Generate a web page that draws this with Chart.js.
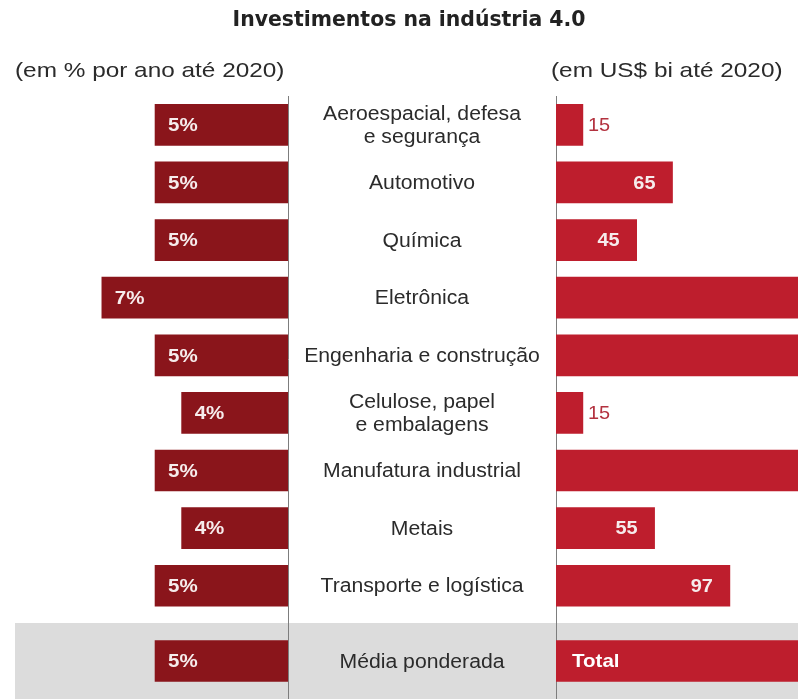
<!DOCTYPE html>
<html lang="pt-BR">
<head>
<meta charset="utf-8">
<title>Investimentos na indústria 4.0</title>
<script src="https://cdn.jsdelivr.net/npm/chart.js@4.4.1/dist/chart.umd.min.js"></script>
<style>
  html, body { margin: 0; padding: 0; background: #ffffff; }
  #wrap { position: relative; width: 798px; height: 699px; overflow: hidden; }
  #mainBox { position: absolute; left: 0; top: 0; width: 798px; height: 623px; }
  #footBox { position: absolute; left: 0; top: 623px; width: 798px; height: 76px; }
</style>
</head>
<body>
<div id="wrap">
  <div id="mainBox"><canvas id="main"></canvas></div>
  <div id="footBox"><canvas id="foot"></canvas></div>
</div>
<script>
// ---- data ----
const chartTitle = 'Investimentos na indústria 4.0';
const leftCaption = '(em % por ano até 2020)';
const rightCaption = '(em US$ bi até 2020)';

const sectors = [
  ['Aeroespacial, defesa', 'e segurança'],
  'Automotivo',
  'Química',
  'Eletrônica',
  'Engenharia e construção',
  ['Celulose, papel', 'e embalagens'],
  'Manufatura industrial',
  'Metais',
  'Transporte e logística'
];
// annual growth of investment, % per year up to 2020
const growthPct = [5, 5, 5, 7, 5, 4, 5, 4, 5];
// investment, US$ billion up to 2020
const investBn = [15, 65, 45, 243, 200, 15, 178, 55, 97];

const summaryLabel = 'Média ponderada';
const summaryPct = [5];
const summaryTotal = [907];
const summaryTotalText = 'Total';

// ---- styles ----
const DARK_RED = '#8a151b';
const RED = '#be1e2d';
const BAND = '#dcdcdc';
const DIVIDER = '#7d7d7d';
const INK = '#2b2b2b';
const SANS = '"Liberation Sans", Arial, sans-serif';

function drawText(ctx, s, x, y, font, color, align, sx) {
  ctx.save();
  ctx.font = font;
  ctx.fillStyle = color;
  ctx.textAlign = align;
  ctx.textBaseline = 'middle';
  ctx.translate(x, y);
  ctx.scale(sx || 1, 1);
  ctx.fillText(s, 0, 0);
  ctx.restore();
}

// three side-by-side x scales: % bars (left, reversed), label column, US$ bars (right)
function columnScales() {
  const hidden = {
    display: true,
    grid: { display: false, drawTicks: false },
    border: { display: false },
    ticks: { display: false }
  };
  return {
    xl: Object.assign({ type: 'linear', position: 'bottom', stack: 'cols', stackWeight: 288,
                        reverse: true, min: 0, max: 10.83 }, hidden),
    xm: Object.assign({ type: 'linear', position: 'bottom', stack: 'cols', stackWeight: 268,
                        min: 0, max: 1 }, hidden),
    xr: Object.assign({ type: 'linear', position: 'bottom', stack: 'cols', stackWeight: 242,
                        min: 0, max: 135 }, hidden),
    y: { type: 'category', display: false, offset: true, grid: { display: false } }
  };
}

function drawDividers(chart, top) {
  const ctx = chart.ctx;
  const { xl, xr } = chart.scales;
  ctx.save();
  ctx.strokeStyle = DIVIDER;
  ctx.lineWidth = 1;
  [xl.getPixelForValue(0), xr.getPixelForValue(0)].forEach(px => {
    const x = Math.round(px) + 0.5;
    ctx.beginPath();
    ctx.moveTo(x, top);
    ctx.lineTo(x, chart.height);
    ctx.stroke();
  });
  ctx.restore();
}

function drawValueLabels(chart, pctValues, bnValues, bnText) {
  const ctx = chart.ctx;
  const { xl, xr, y } = chart.scales;
  pctValues.forEach((v, i) => {
    const yy = y.getPixelForValue(i) + 1;
    drawText(ctx, v + '%', xl.getPixelForValue(v) + 13, yy,
             'bold 19px ' + SANS, '#f6ecec', 'left', 1.08);
  });
  bnValues.forEach((v, i) => {
    const yy = y.getPixelForValue(i) + 1;
    if (bnText) {
      drawText(ctx, bnText, xr.getPixelForValue(0) + 16, yy,
               'bold 19px ' + SANS, '#ffffff', 'left', 1.08);
      return;
    }
    const end = xr.getPixelForValue(v);
    if (end - xr.left < 40) {
      drawText(ctx, String(v), end + 5, yy, '19px ' + SANS, '#b3323f', 'left', 1.05);
    } else if (end <= xr.right) {
      drawText(ctx, String(v), end - 17, yy, 'bold 19px ' + SANS, '#f6ecec', 'right', 1.05);
    }
  });
}

function drawCategory(chart, label, i) {
  const ctx = chart.ctx;
  const { xm, y } = chart.scales;
  const cx = (xm.left + xm.right) / 2;
  const cy = y.getPixelForValue(i) + 1;
  const lines = Array.isArray(label) ? label : [label];
  const lh = 23;
  lines.forEach((ln, k) => {
    const yy = cy + (k - (lines.length - 1) / 2) * lh;
    drawText(ctx, ln, cx, yy, '20px ' + SANS, INK, 'center', 1.06);
  });
}

const mainDecor = {
  id: 'mainDecor',
  beforeDatasetsDraw(chart) {
    drawDividers(chart, chart.chartArea.top);
  },
  afterDatasetsDraw(chart) {
    const ctx = chart.ctx;
    drawText(ctx, chartTitle, 409, 21,
             'bold 21px "Liberation Sans Narrow", "DejaVu Sans Condensed", sans-serif', '#222222', 'center', 1.08);
    drawText(ctx, leftCaption, 15, 71, '21px ' + SANS, INK, 'left', 1.16);
    drawText(ctx, rightCaption, 551, 71, '21px ' + SANS, INK, 'left', 1.16);
    sectors.forEach((s, i) => drawCategory(chart, s, i));
    drawValueLabels(chart, growthPct, investBn, null);
  }
};

const footDecor = {
  id: 'footDecor',
  beforeDraw(chart) {
    const ctx = chart.ctx;
    ctx.save();
    ctx.fillStyle = BAND;
    ctx.fillRect(15, 0, chart.width - 15, chart.height);
    ctx.restore();
  },
  beforeDatasetsDraw(chart) {
    drawDividers(chart, 0);
  },
  afterDatasetsDraw(chart) {
    drawCategory(chart, summaryLabel, 0);
    drawValueLabels(chart, summaryPct, summaryTotal, summaryTotalText);
  }
};

function barOptions(padding) {
  return {
    indexAxis: 'y',
    responsive: true,
    maintainAspectRatio: false,
    animation: false,
    layout: { padding },
    scales: columnScales(),
    plugins: { legend: { display: false }, tooltip: { enabled: false }, title: { display: false } },
    datasets: { bar: { barThickness: 41, borderWidth: 0, grouped: false } }
  };
}

new Chart(document.getElementById('main'), {
  type: 'bar',
  data: {
    labels: sectors,
    datasets: [
      { label: '% ao ano', data: growthPct, xAxisID: 'xl', yAxisID: 'y', backgroundColor: DARK_RED },
      { label: 'US$ bi', data: investBn, xAxisID: 'xr', yAxisID: 'y', backgroundColor: RED }
    ]
  },
  options: barOptions({ top: 96, bottom: 8.4, left: 0, right: 0 }),
  plugins: [mainDecor]
});

new Chart(document.getElementById('foot'), {
  type: 'bar',
  data: {
    labels: [summaryLabel],
    datasets: [
      { label: '% ao ano', data: summaryPct, xAxisID: 'xl', yAxisID: 'y', backgroundColor: DARK_RED },
      { label: 'US$ bi', data: summaryTotal, xAxisID: 'xr', yAxisID: 'y', backgroundColor: RED }
    ]
  },
  options: barOptions({ top: 0, bottom: 0, left: 0, right: 0 }),
  plugins: [footDecor]
});
</script>
</body>
</html>
